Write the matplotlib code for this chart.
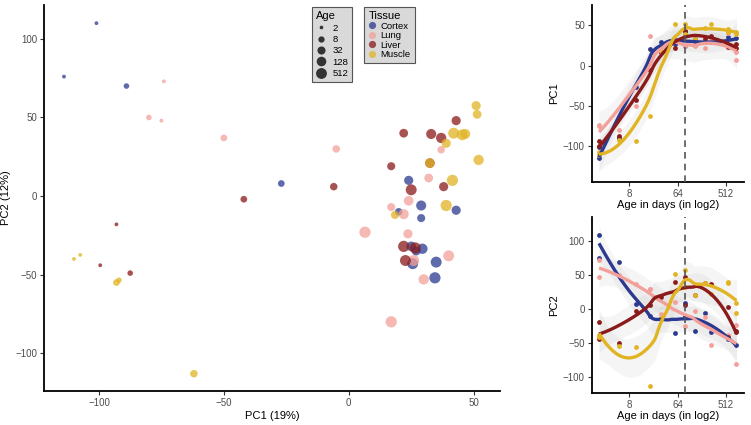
import numpy as np
import matplotlib
matplotlib.use("Agg")
import matplotlib.pyplot as plt
from matplotlib.lines import Line2D

plt.rcParams["font.family"] = ["Liberation Sans", "DejaVu Sans"]

# samples per tissue: age in days, PC1, PC2
cortex_age = [2.2, 2.2, 5.2, 10.9, 20, 31.6, 58, 87, 87, 135, 212, 274, 566, 566, 800]
cortex_pc1 = [-101, -114, -89, -27, 20, 29, 27, 24, 43, 25, 29, 29.5, 25.6, 35, 34.5]
cortex_pc2 = [110, 76, 70, 8, -10, -14, -35, 10, -9, -32, -6, -33.5, -43, -42, -52]

lung_age = [2.2, 2.2, 5.2, 10.9, 20, 20, 31.6, 58, 87, 135, 212, 274, 566, 566, 800, 800]
lung_pc1 = [-74, -75, -80, -50, -5, 37, 17, 32, 23.7, 24, 22, 30, 40, 26, 6.5, 17]
lung_pc2 = [73, 48, 50, 37, 30, 29.5, -7, 11.5, -24, -3, -11.5, -53, -38, -41, -23, -80]

liver_age = [2.2, 2.2, 5.2, 10.9, 20, 31.6, 58, 87, 87, 135, 212, 274, 566, 566, 800, 800]
liver_pc1 = [-93, -99.5, -87.5, -42, -6, 17, 22, 43, 38, 32.5, 33, 37, 25, 22.7, 26.6, 22]
liver_pc2 = [-18, -44, -49, -2, 6, 19, 40, 48, 6, 21, 39.5, 37, 4, -41, -33, -32]

muscle_age = [2.2, 2.2, 5.2, 10.9, 20, 31.6, 58, 87, 87, 135, 212, 274, 566, 566, 800, 800]
muscle_pc1 = [-110, -107.5, -92, -93, -62, 18.5, 51.4, 51, 39, 32.5, 46.6, 52, 42, 45.4, 41.5, 39]
muscle_pc2 = [-40, -37.4, -53.5, -55, -113, -12, 52, 57.5, 33.6, 21, 39.5, 23, 40, 39, 10, -6]

tissues = ["Cortex", "Lung", "Liver", "Muscle"]
colors = ["#2B3990", "#F4A09A", "#8B1A1A", "#E1B424"]
ages = [cortex_age, lung_age, liver_age, muscle_age]
pc1s = [cortex_pc1, lung_pc1, liver_pc1, muscle_pc1]
pc2s = [cortex_pc2, lung_pc2, liver_pc2, muscle_pc2]

age_breaks = [2, 8, 32, 128, 512]
adult_age = 87
pc_var = [19, 12]


def size_of(a):
    return 6.8 * np.log2(np.asarray(a, float))


def loess(x, y, grid, span=0.75):
    # plain loess (degree 2, tricube) with a confidence band, like geom_smooth
    x = np.asarray(x, float)
    y = np.asarray(y, float)
    n = len(x)
    q = int(np.floor(n * span))

    def row(x0):
        d = np.abs(x - x0)
        h = np.sort(d)[q - 1] * 1.0001
        w = np.clip(1 - (d / h) ** 3, 0, None) ** 3
        X = np.column_stack([np.ones(n), x - x0, (x - x0) ** 2])
        XtW = X.T * w
        return np.linalg.solve(XtW @ X, XtW)[0]

    L = np.array([row(v) for v in x])
    M = np.eye(n) - L
    MM = M.T @ M
    d1 = np.trace(MM)
    d2 = np.trace(MM @ MM)
    resid = y - L @ y
    sigma = np.sqrt(resid @ resid / d1)
    df = d1 ** 2 / d2
    z = 1.96
    t = z + (z ** 3 + z) / (4 * df) + (5 * z ** 5 + 16 * z ** 3 + 3 * z) / (96 * df ** 2)
    G = np.array([row(v) for v in grid])
    fit = G @ y
    se = sigma * np.sqrt((G ** 2).sum(1))
    return fit, fit - t * se, fit + t * se


def style(ax):
    for s in ["top", "right"]:
        ax.spines[s].set_visible(False)
    for s in ["left", "bottom"]:
        ax.spines[s].set_linewidth(1.3)
    ax.tick_params(labelsize=7, labelcolor="#4d4d4d", color="#333333",
                   length=3, width=0.8, pad=2)


fig = plt.figure(figsize=(7.51, 4.25), dpi=100)

# left: PCA scatter
ax = fig.add_axes([0.0586, 0.080, 0.607, 0.908])
for t, c, a, x, y in zip(tissues, colors, ages, pc1s, pc2s):
    ax.scatter(x, y, s=size_of(a), color=c, alpha=0.75, linewidths=0)
ax.set_xlim(-122, 60.5)
ax.set_ylim(-124, 121.5)
ax.set_xticks([-100, -50, 0, 50])
ax.set_yticks([-100, -50, 0, 50, 100])
ax.set_xlabel("PC1 (%d%%)" % pc_var[0], fontsize=8, labelpad=2)
ax.set_ylabel("PC2 (%d%%)" % pc_var[1], fontsize=8, labelpad=3)
style(ax)

age_handles = [Line2D([], [], marker="o", ls="", color="#333333", mew=0,
                      markersize=np.sqrt(size_of(b))) for b in age_breaks]
leg1 = fig.legend(age_handles, [str(b) for b in age_breaks], title="Age",
                  loc="upper left", bbox_to_anchor=(0.4154, 0.9835), borderaxespad=0,
                  fontsize=6.8, title_fontsize=8, frameon=True, fancybox=False,
                  facecolor="#d9d9d9", edgecolor="#555555", framealpha=1,
                  handlelength=1.0, handletextpad=0.7, labelspacing=0.25,
                  borderpad=0.45, alignment="left")
leg1.get_frame().set_linewidth(0.8)

tis_handles = [Line2D([], [], marker="o", ls="", color=c, alpha=0.75, mew=0,
                      markersize=5.2) for c in colors]
leg2 = fig.legend(tis_handles, tissues, title="Tissue",
                  loc="upper left", bbox_to_anchor=(0.4847, 0.9835), borderaxespad=0,
                  fontsize=6.8, title_fontsize=8, frameon=True, fancybox=False,
                  facecolor="#d9d9d9", edgecolor="#555555", framealpha=1,
                  handlelength=0.8, handletextpad=0.5, labelspacing=0.05,
                  borderpad=0.45, alignment="left")
leg2.get_frame().set_linewidth(0.8)

# right: PCs against age
right = [
    (fig.add_axes([0.788, 0.5718, 0.2024, 0.4165]), pc1s, "PC1", (-144, 75), [-100, -50, 0, 50]),
    (fig.add_axes([0.788, 0.0753, 0.2024, 0.4141]), pc2s, "PC2", (-123, 136), [-100, -50, 0, 50, 100]),
]
for rax, pcs, name, ylim, yt in right:
    for c, a, v in zip(colors, ages, pcs):
        lx = np.log2(a)
        grid = np.linspace(min(lx), max(lx), 80)
        fit, lo, hi = loess(lx, v, grid)
        rax.fill_between(grid, lo, hi, color="#bdbdbd", alpha=0.15, linewidth=0)
    for c, a, v in zip(colors, ages, pcs):
        rax.scatter(np.log2(a), v, s=12, color=c, linewidths=0, zorder=3)
    for c, a, v in zip(colors, ages, pcs):
        lx = np.log2(a)
        grid = np.linspace(min(lx), max(lx), 80)
        fit, lo, hi = loess(lx, v, grid)
        rax.plot(grid, fit, color=c, lw=2.4, zorder=4, solid_capstyle="butt")
    rax.axvline(np.log2(adult_age), color="#555555", lw=1.2, ls=(0, (4, 3)), zorder=5)
    rax.set_xlim(0.69, 10.1)
    rax.set_ylim(*ylim)
    rax.set_xticks([3, 6, 9])
    rax.set_xticklabels(["8", "64", "512"])
    rax.set_yticks(yt)
    rax.set_ylabel(name, fontsize=8, labelpad=3)
    rax.set_xlabel("Age in days (in log2)", fontsize=8, labelpad=1)
    style(rax)

fig.savefig("out.png", dpi=100)
